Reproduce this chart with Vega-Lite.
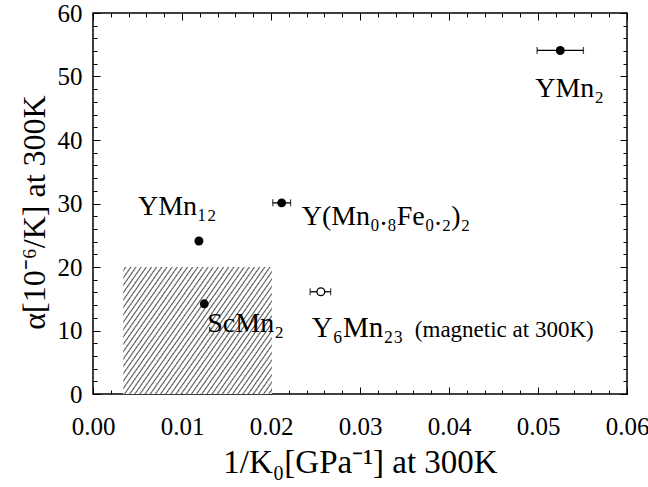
{
  "$schema": "https://vega.github.io/schema/vega-lite/v6.json",
  "width": 534,
  "height": 381,
  "autosize": {"type": "none"},
  "padding": {"left": 93, "top": 13, "right": 21, "bottom": 93},
  "background": "white",
  "config": {
    "view": {"stroke": "black", "strokeWidth": 1.5},
    "font": "Liberation Serif",
    "text": {"font": "Liberation Serif"},
    "axis": {"grid": false, "domain": false, "tickColor": "black", "labelColor": "black", "titleColor": "black", "labelFont": "Liberation Serif", "titleFont": "Liberation Serif", "titleFontWeight": "normal", "tickWidth": 1, "labelFlush": false}
  },
  "datasets": {
    "pts": [
      {"name": "YMn2", "label": "YMn₂", "x": 0.0525, "y": 54.1, "xlo": 0.0499, "xhi": 0.0551, "open": false},
      {"name": "YMnFe", "label": "Y(Mn₀.₈Fe₀.₂)₂", "x": 0.0212, "y": 30.1, "xlo": 0.0202, "xhi": 0.0222, "open": false},
      {"name": "YMn12", "label": "YMn₁₂", "x": 0.0119, "y": 24.1, "xlo": null, "xhi": null, "open": false},
      {"name": "ScMn2", "label": "ScMn₂", "x": 0.0125, "y": 14.2, "xlo": null, "xhi": null, "open": false},
      {"name": "Y6Mn23", "label": "Y₆Mn₂₃", "x": 0.0256, "y": 16.1, "xlo": 0.0244, "xhi": 0.0267, "open": true}
    ],
    "region": [{"x0": 0.0034, "x1": 0.0201, "y0": 0, "y1": 20}]
  },
  "resolve": {"axis": {"x": "independent", "y": "independent"}},
  "layer": [
    {
      "data": {"name": "region"},
      "mark": {"type": "rect", "fill": {"gradient": "linear", "x1": 0, "y1": 0, "x2": 1.177, "y2": 0.703, "stops": [
        {"offset":0,"color":"#fff"},
        {"offset":0.005,"color":"#fff"},{"offset":0.0105,"color":"#555"},{"offset":0.016,"color":"#fff"},
        {"offset":0.0267,"color":"#fff"},{"offset":0.0322,"color":"#555"},{"offset":0.0377,"color":"#fff"},
        {"offset":0.0484,"color":"#fff"},{"offset":0.0539,"color":"#555"},{"offset":0.0594,"color":"#fff"},
        {"offset":0.0701,"color":"#fff"},{"offset":0.0756,"color":"#555"},{"offset":0.0811,"color":"#fff"},
        {"offset":0.0918,"color":"#fff"},{"offset":0.0973,"color":"#555"},{"offset":0.1028,"color":"#fff"},
        {"offset":0.1135,"color":"#fff"},{"offset":0.119,"color":"#555"},{"offset":0.1245,"color":"#fff"},
        {"offset":0.1352,"color":"#fff"},{"offset":0.1407,"color":"#555"},{"offset":0.1462,"color":"#fff"},
        {"offset":0.1569,"color":"#fff"},{"offset":0.1624,"color":"#555"},{"offset":0.1679,"color":"#fff"},
        {"offset":0.1786,"color":"#fff"},{"offset":0.1841,"color":"#555"},{"offset":0.1896,"color":"#fff"},
        {"offset":0.2003,"color":"#fff"},{"offset":0.2058,"color":"#555"},{"offset":0.2113,"color":"#fff"},
        {"offset":0.222,"color":"#fff"},{"offset":0.2275,"color":"#555"},{"offset":0.233,"color":"#fff"},
        {"offset":0.2437,"color":"#fff"},{"offset":0.2492,"color":"#555"},{"offset":0.2547,"color":"#fff"},
        {"offset":0.2654,"color":"#fff"},{"offset":0.2709,"color":"#555"},{"offset":0.2764,"color":"#fff"},
        {"offset":0.2871,"color":"#fff"},{"offset":0.2926,"color":"#555"},{"offset":0.2981,"color":"#fff"},
        {"offset":0.3088,"color":"#fff"},{"offset":0.3143,"color":"#555"},{"offset":0.3198,"color":"#fff"},
        {"offset":0.3305,"color":"#fff"},{"offset":0.336,"color":"#555"},{"offset":0.3415,"color":"#fff"},
        {"offset":0.3522,"color":"#fff"},{"offset":0.3577,"color":"#555"},{"offset":0.3632,"color":"#fff"},
        {"offset":0.3739,"color":"#fff"},{"offset":0.3794,"color":"#555"},{"offset":0.3849,"color":"#fff"},
        {"offset":0.3956,"color":"#fff"},{"offset":0.4011,"color":"#555"},{"offset":0.4066,"color":"#fff"},
        {"offset":0.4173,"color":"#fff"},{"offset":0.4228,"color":"#555"},{"offset":0.4283,"color":"#fff"},
        {"offset":0.439,"color":"#fff"},{"offset":0.4445,"color":"#555"},{"offset":0.45,"color":"#fff"},
        {"offset":0.4607,"color":"#fff"},{"offset":0.4662,"color":"#555"},{"offset":0.4717,"color":"#fff"},
        {"offset":0.4824,"color":"#fff"},{"offset":0.4879,"color":"#555"},{"offset":0.4934,"color":"#fff"},
        {"offset":0.5041,"color":"#fff"},{"offset":0.5096,"color":"#555"},{"offset":0.5151,"color":"#fff"},
        {"offset":0.5258,"color":"#fff"},{"offset":0.5313,"color":"#555"},{"offset":0.5368,"color":"#fff"},
        {"offset":0.5475,"color":"#fff"},{"offset":0.553,"color":"#555"},{"offset":0.5585,"color":"#fff"},
        {"offset":0.5692,"color":"#fff"},{"offset":0.5747,"color":"#555"},{"offset":0.5802,"color":"#fff"},
        {"offset":0.5909,"color":"#fff"},{"offset":0.5964,"color":"#555"},{"offset":0.6019,"color":"#fff"},
        {"offset":0.6126,"color":"#fff"},{"offset":0.6181,"color":"#555"},{"offset":0.6236,"color":"#fff"},
        {"offset":0.6343,"color":"#fff"},{"offset":0.6398,"color":"#555"},{"offset":0.6453,"color":"#fff"},
        {"offset":0.656,"color":"#fff"},{"offset":0.6615,"color":"#555"},{"offset":0.667,"color":"#fff"},
        {"offset":0.6777,"color":"#fff"},{"offset":0.6832,"color":"#555"},{"offset":0.6887,"color":"#fff"},
        {"offset":0.6994,"color":"#fff"},{"offset":0.7049,"color":"#555"},{"offset":0.7104,"color":"#fff"},
        {"offset":0.7211,"color":"#fff"},{"offset":0.7266,"color":"#555"},{"offset":0.7321,"color":"#fff"},
        {"offset":0.7428,"color":"#fff"},{"offset":0.7483,"color":"#555"},{"offset":0.7538,"color":"#fff"},
        {"offset":0.7645,"color":"#fff"},{"offset":0.77,"color":"#555"},{"offset":0.7755,"color":"#fff"},
        {"offset":0.7862,"color":"#fff"},{"offset":0.7917,"color":"#555"},{"offset":0.7972,"color":"#fff"},
        {"offset":0.8079,"color":"#fff"},{"offset":0.8134,"color":"#555"},{"offset":0.8189,"color":"#fff"},
        {"offset":0.8296,"color":"#fff"},{"offset":0.8351,"color":"#555"},{"offset":0.8406,"color":"#fff"},
        {"offset":0.8513,"color":"#fff"},{"offset":0.8568,"color":"#555"},{"offset":0.8623,"color":"#fff"},
        {"offset":0.873,"color":"#fff"},{"offset":0.8785,"color":"#555"},{"offset":0.884,"color":"#fff"},
        {"offset":0.8947,"color":"#fff"},{"offset":0.9002,"color":"#555"},{"offset":0.9057,"color":"#fff"},
        {"offset":0.9164,"color":"#fff"},{"offset":0.9219,"color":"#555"},{"offset":0.9274,"color":"#fff"},
        {"offset":0.9381,"color":"#fff"},{"offset":0.9436,"color":"#555"},{"offset":0.9491,"color":"#fff"},
        {"offset":0.9598,"color":"#fff"},{"offset":0.9653,"color":"#555"},{"offset":0.9708,"color":"#fff"},
        {"offset":0.9815,"color":"#fff"},{"offset":0.987,"color":"#555"},{"offset":0.9925,"color":"#fff"},
        {"offset":1,"color":"#fff"}
      ]}},
      "encoding": {
        "x": {"field": "x0", "type": "quantitative", "scale": {"domain": [0, 0.06], "nice": false, "zero": false},
          "axis": {"orient": "bottom", "values": [0,0.002,0.004,0.006,0.008,0.01,0.012,0.014,0.016,0.018,0.02,0.022,0.024,0.026,0.028,0.03,0.032,0.034,0.036,0.038,0.04,0.042,0.044,0.046,0.048,0.05,0.052,0.054,0.056,0.058,0.06], "labels": false, "title": null, "tickSize": -4}},
        "x2": {"field": "x1"},
        "y": {"field": "y0", "type": "quantitative", "scale": {"domain": [0, 60], "nice": false, "zero": false},
          "axis": {"orient": "left", "values": [0,2,4,6,8,10,12,14,16,18,20,22,24,26,28,30,32,34,36,38,40,42,44,46,48,50,52,54,56,58,60], "labels": false, "title": null, "tickSize": -4}},
        "y2": {"field": "y1"}
      }
    },
    {
      "data": {"name": "pts"},
      "transform": [{"filter": "isValid(datum.xlo)"}],
      "mark": {"type": "errorbar", "ticks": {"size": 7, "color": "black", "thickness": 1.3}, "rule": {"color": "black", "strokeWidth": 1.3}},
      "encoding": {
        "x": {"field": "xlo", "type": "quantitative", "scale": {"domain": [0, 0.06], "nice": false, "zero": false}, "axis": null},
        "x2": {"field": "xhi"},
        "y": {"field": "y", "type": "quantitative", "scale": {"domain": [0, 60], "nice": false, "zero": false}, "axis": null}
      }
    },
    {
      "data": {"name": "pts"},
      "transform": [{"filter": "!datum.open"}],
      "mark": {"type": "point", "filled": true, "color": "black", "size": 80, "opacity": 1},
      "encoding": {
        "x": {"field": "x", "type": "quantitative", "scale": {"domain": [0, 0.06], "nice": false, "zero": false},
          "axis": {"orient": "bottom", "values": [0,0.01,0.02,0.03,0.04,0.05,0.06], "format": ".2f", "labelFont": "Liberation Serif", "labelFontSize": 25, "labelPadding": 27, "labelFlush": false, "tickSize": -7, "title": "1/K₀[GPa⁻¹] at 300K", "titleFont": "Liberation Serif", "titleFontSize": 33, "titlePadding": 7}},
        "y": {"field": "y", "type": "quantitative", "scale": {"domain": [0, 60], "nice": false, "zero": false},
          "axis": {"orient": "left", "values": [0,10,20,30,40,50,60], "labelFont": "Liberation Serif", "labelFontSize": 25, "labelPadding": 18, "labelFlush": false, "tickSize": -7, "title": "α[10⁻⁶/K] at 300K", "titleFont": "Liberation Serif", "titleFontSize": 32, "titlePadding": 6, "titleY": 199}}
      }
    },
    {
      "data": {"name": "pts"},
      "transform": [{"filter": "datum.open"}],
      "mark": {"type": "point", "filled": false, "fill": "white", "fillOpacity": 1, "stroke": "black", "strokeWidth": 1.3, "size": 60, "opacity": 1},
      "encoding": {
        "x": {"field": "x", "type": "quantitative", "scale": {"domain": [0, 0.06], "nice": false, "zero": false},
          "axis": {"orient": "top", "values": [0,0.01,0.02,0.03,0.04,0.05,0.06], "labels": false, "title": null, "tickSize": -7}},
        "y": {"field": "y", "type": "quantitative", "scale": {"domain": [0, 60], "nice": false, "zero": false},
          "axis": {"orient": "right", "values": [0,10,20,30,40,50,60], "labels": false, "title": null, "tickSize": -7}}
      }
    },
    {
      "data": {"name": "pts"},
      "transform": [{"filter": "datum.name === 'YMn2'"}],
      "mark": {"type": "text", "align": "left", "baseline": "alphabetic", "dx": -25, "dy": 47, "font": "Liberation Serif", "fontSize": 28, "color": "black"},
      "encoding": {
        "x": {"field": "x", "type": "quantitative", "scale": {"domain": [0, 0.06], "nice": false, "zero": false},
          "axis": {"orient": "top", "values": [0,0.002,0.004,0.006,0.008,0.01,0.012,0.014,0.016,0.018,0.02,0.022,0.024,0.026,0.028,0.03,0.032,0.034,0.036,0.038,0.04,0.042,0.044,0.046,0.048,0.05,0.052,0.054,0.056,0.058,0.06], "labels": false, "title": null, "tickSize": -4}},
        "y": {"field": "y", "type": "quantitative", "scale": {"domain": [0, 60], "nice": false, "zero": false},
          "axis": {"orient": "right", "values": [0,2,4,6,8,10,12,14,16,18,20,22,24,26,28,30,32,34,36,38,40,42,44,46,48,50,52,54,56,58,60], "labels": false, "title": null, "tickSize": -4}},
        "text": {"field": "label"}
      }
    },
    {
      "data": {"name": "pts"},
      "transform": [{"filter": "datum.name === 'YMnFe'"}],
      "mark": {"type": "text", "align": "left", "baseline": "alphabetic", "dx": 20, "dy": 22, "font": "Liberation Serif", "fontSize": 28, "color": "black"},
      "encoding": {
        "x": {"field": "x", "type": "quantitative", "scale": {"domain": [0, 0.06], "nice": false, "zero": false}, "axis": null},
        "y": {"field": "y", "type": "quantitative", "scale": {"domain": [0, 60], "nice": false, "zero": false}, "axis": null},
        "text": {"field": "label"}
      }
    },
    {
      "data": {"name": "pts"},
      "transform": [{"filter": "datum.name === 'YMn12'"}],
      "mark": {"type": "text", "align": "left", "baseline": "alphabetic", "dx": -61, "dy": -26, "font": "Liberation Serif", "fontSize": 28, "color": "black"},
      "encoding": {
        "x": {"field": "x", "type": "quantitative", "scale": {"domain": [0, 0.06], "nice": false, "zero": false}, "axis": null},
        "y": {"field": "y", "type": "quantitative", "scale": {"domain": [0, 60], "nice": false, "zero": false}, "axis": null},
        "text": {"field": "label"}
      }
    },
    {
      "data": {"name": "pts"},
      "transform": [{"filter": "datum.name === 'ScMn2'"}],
      "mark": {"type": "text", "align": "left", "baseline": "alphabetic", "dx": 3, "dy": 28, "font": "Liberation Serif", "fontSize": 28, "color": "black"},
      "encoding": {
        "x": {"field": "x", "type": "quantitative", "scale": {"domain": [0, 0.06], "nice": false, "zero": false}, "axis": null},
        "y": {"field": "y", "type": "quantitative", "scale": {"domain": [0, 60], "nice": false, "zero": false}, "axis": null},
        "text": {"field": "label"}
      }
    },
    {
      "data": {"name": "pts"},
      "transform": [{"filter": "datum.name === 'Y6Mn23'"}],
      "mark": {"type": "text", "align": "left", "baseline": "alphabetic", "dx": -9, "dy": 45, "font": "Liberation Serif", "fontSize": 29, "color": "black"},
      "encoding": {
        "x": {"field": "x", "type": "quantitative", "scale": {"domain": [0, 0.06], "nice": false, "zero": false}, "axis": null},
        "y": {"field": "y", "type": "quantitative", "scale": {"domain": [0, 60], "nice": false, "zero": false}, "axis": null},
        "text": {"field": "label"}
      }
    },
    {
      "data": {"name": "pts"},
      "transform": [{"filter": "datum.name === 'Y6Mn23'"}],
      "mark": {"type": "text", "align": "left", "baseline": "alphabetic", "dx": 94, "dy": 45, "font": "Liberation Serif", "fontSize": 23, "color": "black", "text": "(magnetic at 300K)"},
      "encoding": {
        "x": {"field": "x", "type": "quantitative", "scale": {"domain": [0, 0.06], "nice": false, "zero": false}, "axis": null},
        "y": {"field": "y", "type": "quantitative", "scale": {"domain": [0, 60], "nice": false, "zero": false}, "axis": null}
      }
    }
  ]
}
